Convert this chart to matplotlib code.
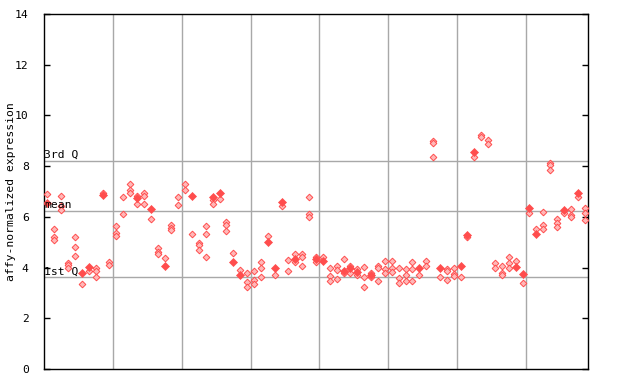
import matplotlib
matplotlib.use("Agg")
import matplotlib.pyplot as plt

# replicate values per sample (hollow markers) and highlighted value (filled marker)
reps = [
    [6.89], [5.51, 5.2, 5.08], [6.81, 6.44, 6.27], [4.2, 4.1, 4.0], [5.19, 4.82, 4.44],
    [3.34], [3.86], [3.97, 3.88, 3.63], [6.93], [4.22, 4.1],
    [5.63, 5.35, 5.25], [6.77, 6.10], [7.28, 7.05, 6.95], [6.81, 6.49], [6.94, 6.81, 6.49],
    [5.90], [4.76, 4.62, 4.52], [4.36], [5.68, 5.58, 5.5], [6.77, 6.47],
    [7.28, 7.05], [5.31], [4.98, 4.88, 4.69], [5.63, 5.31, 4.40], [6.66, 6.49],
    [6.69], [5.81, 5.68, 5.44], [4.56], [3.90], [3.77, 3.42, 3.23],
    [3.86, 3.51, 3.35], [4.21, 3.98, 3.63], [5.24], [3.71], [6.41],
    [4.30, 3.86], [4.52, 4.22], [4.52, 4.43, 4.06], [6.77, 6.11, 6.0], [4.43, 4.22],
    [4.43], [3.97, 3.67, 3.46], [4.06, 3.90, 3.54], [4.33, 3.77], [4.06, 3.77],
    [3.93, 3.72], [4.01, 3.64, 3.22], [3.77, 3.62], [4.06, 3.97, 3.46], [4.27, 3.93, 3.77],
    [4.27, 3.97, 3.81], [3.97, 3.58, 3.38], [3.95, 3.72, 3.46], [4.21, 3.93, 3.46], [3.72],
    [4.27, 4.06], [9.0, 8.92, 8.35], [3.61], [3.95, 3.88, 3.50], [3.97, 3.76, 3.67],
    [3.61], [5.2], [8.35], [9.23, 9.16], [9.03, 8.87],
    [4.17, 3.97], [4.06, 3.77, 3.71], [4.40, 4.19, 3.97], [4.26], [3.38],
    [6.14], [5.51], [6.18, 5.68, 5.51], [8.14, 8.04, 7.85], [5.90, 5.74, 5.61],
    [6.14], [6.30, 6.07, 5.98], [6.77], [6.34, 6.16, 5.88],
]
solid = [
    6.53, None, None, None, None, 3.80, 4.03, None, 6.85, None,
    None, None, None, 6.73, None, 6.30, None, 4.07, None, None,
    None, 6.83, None, None, 6.80, 6.95, None, 4.22, 3.72, None,
    None, None, 5.02, 4.0, 6.60, None, 4.32, None, None, 4.33,
    4.26, None, None, 3.88, 3.97, 3.81, None, 3.72, None, None,
    None, None, None, None, 3.98, None, None, 4.0, None, None,
    4.05, 5.28, 8.57, None, None, None, None, None, 4.03, 3.73,
    6.36, 5.34, None, None, None, 6.27, None, 6.95, None,
]
group_edges = [9.5, 19.5, 29.5, 39.5, 49.5, 59.5, 69.5]
q1, mean, q3 = 3.62, 6.23, 8.21

red = "#ff4d4d"
grid_c = "#a8a8a8"
mono = "DejaVu Sans Mono"
fs = 8.2

fig = plt.figure(figsize=(6.4, 3.84), dpi=100)
ax = fig.add_axes([44 / 640, 15 / 384, 544 / 640, 355 / 384])

n = len(reps)
for e in group_edges:
    ax.axvline(e, color=grid_c, lw=1, zorder=1)
for h in (q1, mean, q3):
    ax.axhline(h, color=grid_c, lw=1, zorder=1)

hx, hy = [], []
for i, vals in enumerate(reps):
    hx += [i] * len(vals)
    hy += vals
ax.plot(hx, hy, ls="none", marker="D", ms=3.4, mfc="#ffb8b8", mec=red, mew=0.7, zorder=3)

sx = [i for i, v in enumerate(solid) if v is not None]
sy = [v for v in solid if v is not None]
ax.plot(sx, sy, ls="none", marker="D", ms=3.8, mfc=red, mec=red, mew=0.5, zorder=4)

for h, lab in ((q3, "3rd Q"), (mean, "mean"), (q1, "1st Q")):
    ax.text(-0.45, h + 0.03, lab, fontsize=fs, family=mono, va="bottom", ha="left", zorder=5)

ax.set_xlim(-0.5, n - 0.5)
ax.set_ylim(0, 14)
ax.set_yticks(range(0, 15, 2))
ax.set_xticks([])
ax.tick_params(axis="y", direction="in", length=4, width=1, right=True, labelsize=fs, pad=11)
for lab in ax.get_yticklabels():
    lab.set_family(mono)
ax.set_ylabel("affy-normalized expression", fontsize=fs, family=mono)
ax.yaxis.set_label_coords(-0.052, 0.5)
for s in ax.spines.values():
    s.set_color("black")
    s.set_linewidth(1)

fig.savefig("out.png", dpi=100)
